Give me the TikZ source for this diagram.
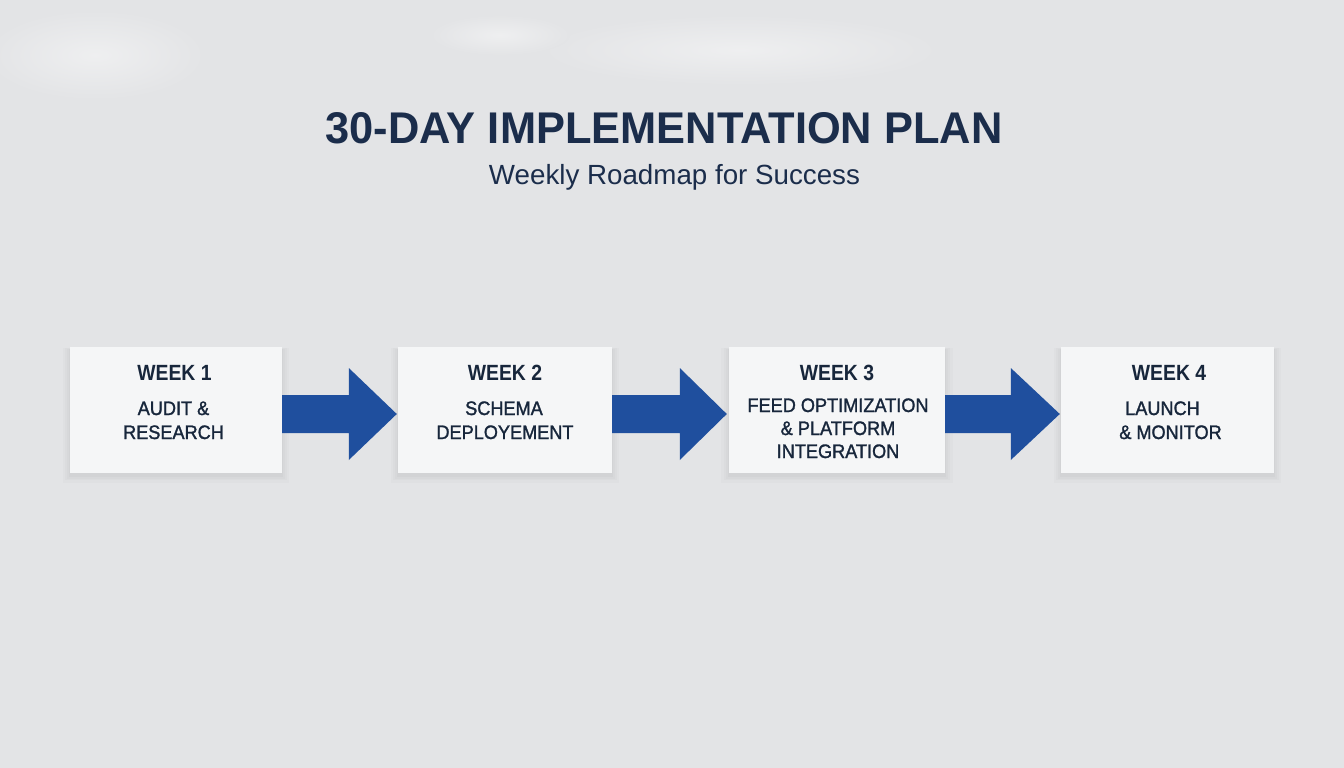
\documentclass[tikz,border=0pt]{standalone}
\usepackage{fontspec}
\usepackage{graphicx}
\setmainfont{Liberation Sans}
\newfontfamily\headfont[FakeStretch=0.88]{Liberation Sans}
\newfontfamily\bodyfont[FakeStretch=0.93,FakeBold=1.4]{Liberation Sans}
\usetikzlibrary{shadows,calc}
\definecolor{bg}{HTML}{E3E4E6}
\definecolor{boxfill}{HTML}{F5F6F7}
\definecolor{ink}{HTML}{17263B}
\definecolor{titleink}{HTML}{1B2D4B}
\definecolor{arrowblue}{HTML}{1F4F9E}
\tikzset{
  wbox/.style={fill=boxfill, draw=none, inner sep=0pt, minimum height=126pt,
    drop shadow={opacity=0.035, shadow xshift=0pt, shadow yshift=-5pt, shadow scale=1.07},
    drop shadow={opacity=0.035, shadow xshift=0pt, shadow yshift=-4pt, shadow scale=1.05},
    drop shadow={opacity=0.04, shadow xshift=0pt, shadow yshift=-4pt, shadow scale=1.03},
    drop shadow={opacity=0.05, shadow xshift=0pt, shadow yshift=-3pt, shadow scale=1.012}},
  head/.style={anchor=base, inner sep=0pt, text=ink, font=\headfont\bfseries\fontsize{22}{22}\selectfont},
  bodyline/.style={anchor=base, inner sep=0pt, text=ink, font=\bodyfont\fontsize{19.5}{19.5}\selectfont},
  flow/.style={fill=arrowblue, draw=none},
  blob/.style={inner color=white!40!bg, outer color=bg}
}
\begin{document}
\begin{tikzpicture}[x=1pt,y=-1pt]
\useasboundingbox (0,0) rectangle (1344,768);
\fill[bg] (0,0) rectangle (1344,768);
% soft background texture
\shade[blob] (95,55) ellipse (110pt and 45pt);
\shade[blob] (740,50) ellipse (200pt and 35pt);
\shade[blob] (500,35) ellipse (70pt and 20pt);

% title
\node[anchor=base, inner sep=0pt, text=titleink] (title) at (664,143)
  {\resizebox{677pt}{31pt}{\bfseries 30-DAY IMPLEMENTATION PLAN}};
\node[anchor=base, inner sep=0pt, text=titleink] (subtitle) at (674.5,184)
  {\resizebox{371pt}{!}{\fontsize{28}{28}\selectfont Weekly Roadmap for Success}};

% boxes
\node[wbox, minimum width=212pt] (b1) at (176,410) {};
\node[wbox, minimum width=214pt] (b2) at (505,410) {};
\node[wbox, minimum width=216pt] (b3) at (837,410) {};
\node[wbox, minimum width=213pt] (b4) at (1167.5,410) {};

% box texts
\node[head] (h1) at (174.5,380) {WEEK 1};
\node[bodyline] (t11) at (173.5,415) {AUDIT \&};
\node[bodyline] (t12) at (173.5,439) {RESEARCH};

\node[head] (h2) at (505,380) {WEEK 2};
\node[bodyline] (t21) at (504,415) {SCHEMA};
\node[bodyline] (t22) at (505,439) {DEPLOYEMENT};

\node[head] (h3) at (837,380) {WEEK 3};
\node[bodyline] (t31) at (838,412) {FEED OPTIMIZATION};
\node[bodyline] (t32) at (838,435) {\& PLATFORM};
\node[bodyline] (t33) at (838,458) {INTEGRATION};

\node[head] (h4) at (1169,380) {WEEK 4};
\node[bodyline] (t41) at (1162.5,415) {LAUNCH};
\node[bodyline] (t42) at (1170.5,439) {\& MONITOR};

% block arrows
\fill[flow] ([yshift=15pt]b1.east) -- ([xshift=-49pt,yshift=15pt]b2.west)
  -- ([xshift=-49pt,yshift=42pt]b2.west) -- ([xshift=-1pt,yshift=-4pt]b2.west)
  -- ([xshift=-49pt,yshift=-50pt]b2.west) -- ([xshift=-49pt,yshift=-23pt]b2.west)
  -- ([yshift=-23pt]b1.east) -- cycle;
\fill[flow] ([yshift=15pt]b2.east) -- ([xshift=-49pt,yshift=15pt]b3.west)
  -- ([xshift=-49pt,yshift=42pt]b3.west) -- ([xshift=-2pt,yshift=-4pt]b3.west)
  -- ([xshift=-49pt,yshift=-50pt]b3.west) -- ([xshift=-49pt,yshift=-23pt]b3.west)
  -- ([yshift=-23pt]b2.east) -- cycle;
\fill[flow] ([yshift=15pt]b3.east) -- ([xshift=-50pt,yshift=15pt]b4.west)
  -- ([xshift=-50pt,yshift=42pt]b4.west) -- ([xshift=-1pt,yshift=-4pt]b4.west)
  -- ([xshift=-50pt,yshift=-50pt]b4.west) -- ([xshift=-50pt,yshift=-23pt]b4.west)
  -- ([yshift=-23pt]b3.east) -- cycle;
\end{tikzpicture}
\end{document}
